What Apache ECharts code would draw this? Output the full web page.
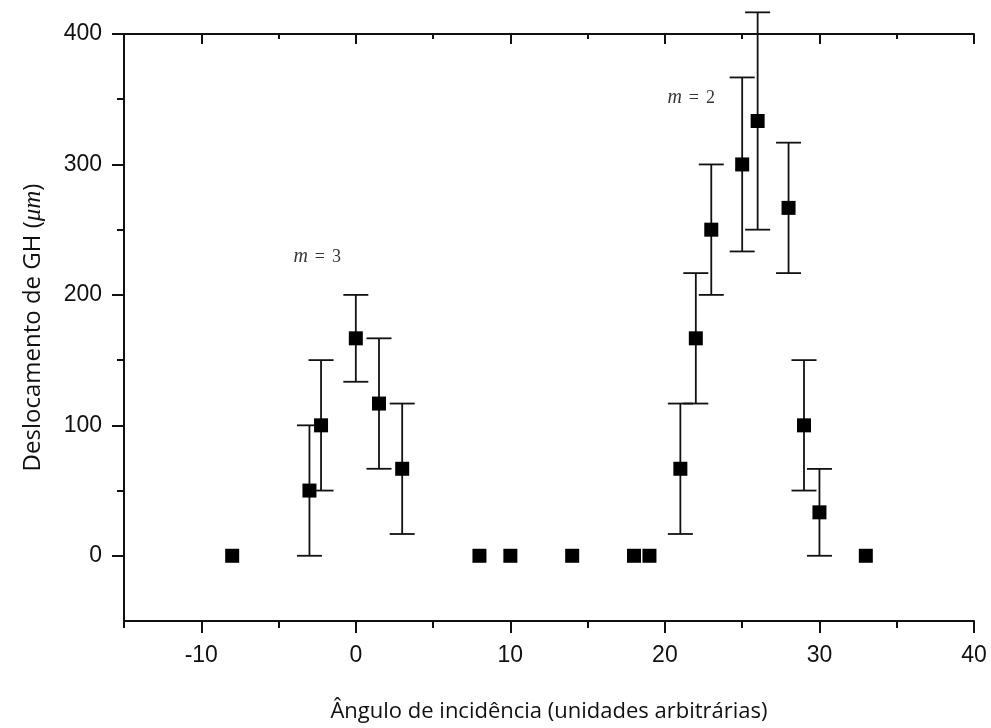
<!DOCTYPE html>
<html>
<head>
<meta charset="utf-8">
<script src="https://cdn.jsdelivr.net/npm/echarts@6/dist/echarts.min.js"></script>
<style>html,body{margin:0;padding:0;background:#fff}#c{width:991px;height:728px}</style>
</head>
<body>
<div id="c"></div>
<script>
// Data
var angles = [-8, -3, -2.25, 0, 1.5, 3, 8, 10, 14, 18, 19, 21, 22, 23, 25, 26, 28, 29, 30, 33];
var shifts = [0, 50, 100, 166.7, 116.7, 66.7, 0, 0, 0, 0, 0, 66.7, 166.7, 250, 300, 333.3, 266.7, 100, 33.3, 0];
var errors = [0, 50, 50, 33.3, 50, 50, 0, 0, 0, 0, 0, 50, 50, 50, 66.7, 83.3, 50, 50, 33.3, 0];
var xMajorTicks = [-10, 0, 10, 20, 30, 40];
var xMinorTicks = [-15, -5, 5, 15, 25, 35];
var yMajorTicks = [0, 100, 200, 300, 400];
var yMinorTicks = [50, 150, 250, 350];
var annotations = [
  {x: -2.5, y: 229, m: '3'},
  {x: 21.7, y: 351, m: '2'}
];

var points = angles.map(function (a, i) { return [a, shifts[i]]; });
var bars = [];
angles.forEach(function (a, i) {
  if (errors[i] > 0) bars.push([a, shifts[i] - errors[i], shifts[i] + errors[i]]);
});
var notes = annotations.map(function (n) { return {value: [n.x, n.y], m: n.m}; });

var ink = '#111';
var chart = echarts.init(document.getElementById('c'));
var baseX = {type: 'value', min: -15, max: 40, interval: 5, splitLine: {show: false}};
var baseY = {type: 'value', min: -50, max: 400, interval: 50, splitLine: {show: false}};
function line(show) { return {show: show, onZero: false, lineStyle: {color: ink, width: 2}}; }
chart.setOption({
  animation: false,
  backgroundColor: '#fff',
  grid: {left: 124, right: 17, top: 34, bottom: 107, containLabel: false},
  xAxis: [
    Object.assign({}, baseX, {
      position: 'bottom',
      name: 'Ângulo de incidência (unidades arbitrárias)',
      nameLocation: 'middle', nameGap: 80,
      nameTextStyle: {fontFamily: 'Open Sans', fontSize: 22, color: '#111'},
      axisLine: line(true),
      axisTick: {show: true, inside: false, length: 12, customValues: xMajorTicks, lineStyle: {color: ink, width: 2}},
      axisLabel: {show: true, customValues: xMajorTicks, margin: 23, fontFamily: 'Liberation Sans', fontSize: 23, color: '#111'}
    }),
    Object.assign({}, baseX, {
      position: 'bottom',
      axisLine: line(false),
      axisTick: {show: true, inside: false, length: 7, customValues: xMinorTicks, lineStyle: {color: ink, width: 2}},
      axisLabel: {show: false}
    }),
    Object.assign({}, baseX, {
      position: 'top',
      axisLine: line(true),
      axisTick: {show: true, inside: true, length: 10, customValues: xMajorTicks, lineStyle: {color: ink, width: 2}},
      axisLabel: {show: false}
    }),
    Object.assign({}, baseX, {
      position: 'top',
      axisLine: line(false),
      axisTick: {show: true, inside: true, length: 5, customValues: xMinorTicks.filter(function (v) { return v > -15; }), lineStyle: {color: ink, width: 2}},
      axisLabel: {show: false}
    })
  ],
  yAxis: [
    Object.assign({}, baseY, {
      position: 'left',
      name: 'Deslocamento de GH ({i|μm})',
      nameLocation: 'middle', nameGap: 78, nameRotate: 90,
      nameTextStyle: {fontFamily: 'Open Sans', fontSize: 24, color: '#111',
        rich: {i: {fontFamily: 'Liberation Serif', fontStyle: 'italic', fontSize: 25, color: '#111'}}},
      axisLine: line(true),
      axisTick: {show: true, inside: false, length: 12, customValues: yMajorTicks, lineStyle: {color: ink, width: 2}},
      axisLabel: {show: true, customValues: yMajorTicks, margin: 22, fontFamily: 'Liberation Sans', fontSize: 23, color: '#111'}
    }),
    Object.assign({}, baseY, {
      position: 'left',
      axisLine: line(false),
      axisTick: {show: true, inside: false, length: 7, customValues: yMinorTicks, lineStyle: {color: ink, width: 2}},
      axisLabel: {show: false}
    })
  ],
  series: [
    {
      type: 'custom',
      name: 'error',
      xAxisIndex: 0, yAxisIndex: 0,
      clip: false,
      data: bars,
      encode: {x: 0, y: [1, 2]},
      renderItem: function (params, api) {
        var lo = api.coord([api.value(0), api.value(1)]);
        var hi = api.coord([api.value(0), api.value(2)]);
        var hw = 12.5;
        var st = {stroke: '#111', lineWidth: 1.8};
        return {type: 'group', children: [
          {type: 'line', shape: {x1: lo[0], y1: lo[1], x2: hi[0], y2: hi[1]}, style: st},
          {type: 'line', shape: {x1: lo[0] - hw, y1: lo[1], x2: lo[0] + hw, y2: lo[1]}, style: st},
          {type: 'line', shape: {x1: hi[0] - hw, y1: hi[1], x2: hi[0] + hw, y2: hi[1]}, style: st}
        ]};
      },
      z: 2
    },
    {
      type: 'scatter',
      name: 'GH',
      xAxisIndex: 0, yAxisIndex: 0,
      symbol: 'rect', symbolSize: 14,
      itemStyle: {color: '#000', opacity: 1},
      data: points,
      z: 3
    },
    {
      type: 'scatter',
      name: 'notes',
      xAxisIndex: 0, yAxisIndex: 0,
      symbolSize: 0,
      silent: true,
      data: notes,
      label: {
        show: true, position: 'inside',
        formatter: function (p) { return '{m|m}{e|=}{n|' + p.data.m + '}'; },
        rich: {
          m: {fontFamily: 'Liberation Serif', fontStyle: 'italic', fontSize: 20, color: '#000'},
          e: {fontFamily: 'Liberation Serif', fontSize: 18, color: '#000', padding: [0, 7, 0, 7]},
          n: {fontFamily: 'Liberation Serif', fontSize: 18, color: '#000'}
        }
      }
    }
  ]
});
</script>
</body>
</html>
